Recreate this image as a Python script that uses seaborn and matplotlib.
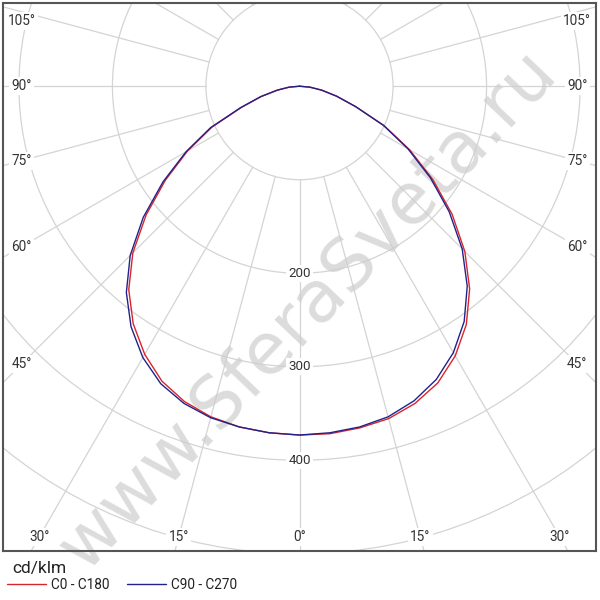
import numpy as np
import pandas as pd
import seaborn as sns
import matplotlib.pyplot as plt
from matplotlib.lines import Line2D
from matplotlib.patches import Circle

# luminous intensity distribution, cd/klm, gamma angle 0..90 deg (step 5)
gamma = [0, 5, 10, 15, 20, 25, 30, 35, 40, 45, 50, 55, 60, 65, 70, 75, 80, 85, 90]
c0 = [373, 373, 371, 368, 361, 350, 333, 311, 283, 250, 213, 174, 136, 100, 64, 41, 24, 11, 0]
c180 = [373, 372, 370, 366, 359, 348, 331, 310, 284, 252, 214, 175, 138, 103, 66, 42, 24, 11, 0]
c90 = [373, 372, 370, 366, 358, 346, 329, 307, 279, 246, 209, 171, 134, 99, 64, 41, 24, 11, 0]
c270 = [373, 372, 370, 367, 361, 351, 335, 314, 288, 256, 218, 178, 140, 105, 67, 43, 24, 11, 0]

series_names = ['C0 - C180', 'C90 - C270']
series_colors = ['#d7262b', '#22228c']

ring_values = [100, 200, 300, 400, 500, 600, 700]
ring_labels = [200, 300, 400]
spoke_angles = list(range(0, 360, 15))
angle_labels = [-105, -90, -75, -60, -45, -30, -15, 0, 15, 30, 45, 60, 75, 90, 105]

grid_color = '#d4d4d4'
text_color = '#333333'
xlim = (-317, 317)
ylim = (-497, 89)


def to_xy(theta_deg, r, side):
    t = np.radians(theta_deg)
    return side * np.asarray(r) * np.sin(t), -np.asarray(r) * np.cos(t)


# one continuous path per plane: left half (90 -> 0), then right half (0 -> 90)
rows = []
for name, left, right in [(series_names[0], c180, c0), (series_names[1], c270, c90)]:
    xl, yl = to_xy(gamma[::-1], left[::-1], -1)
    xr, yr = to_xy(gamma[1:], right[1:], 1)
    for x, y in zip(np.concatenate([xl, xr]), np.concatenate([yl, yr])):
        rows.append({'x': x, 'y': y, 'plane': name})
df = pd.DataFrame(rows)

sns.set_theme(style='white')
plt.rcParams['font.family'] = ['Roboto', 'DejaVu Sans']

fig = plt.figure(figsize=(6, 6), dpi=100)
ax = fig.add_axes([3 / 600, 49 / 600, 593 / 600, 548 / 600])

# polar grid
for rv in ring_values:
    ax.add_patch(Circle((0, 0), rv, fill=False, ec=grid_color, lw=0.9, zorder=1))
for a in spoke_angles:
    t = np.radians(a)
    ax.plot([100 * np.sin(t), 900 * np.sin(t)], [-100 * np.cos(t), -900 * np.cos(t)],
            color=grid_color, lw=0.9, zorder=1)

# watermark
ax.text(0.515, 0.44, 'www.SferaSveta.ru', transform=ax.transAxes, rotation=46.4,
        ha='center', va='center', rotation_mode='anchor', fontsize=52,
        family='DejaVu Sans', color='#cdcdcd', alpha=0.7, zorder=1.5)

sns.lineplot(data=df, x='x', y='y', hue='plane', palette=series_colors, sort=False,
             estimator=None, lw=1.0, legend=False, ax=ax, zorder=3)

box = dict(facecolor='white', edgecolor='none', pad=1.5)
for rv in ring_labels:
    ax.text(0, -rv, str(rv), ha='center', va='center', fontsize=9.6, color=text_color,
            bbox=box, zorder=4)

side_x = 297
bottom_y = -482
top_y = 70
for a in angle_labels:
    t = np.radians(abs(a))
    sgn = 1 if a >= 0 else -1
    if abs(a) == 90:
        lx, ly = side_x, 0.0
    else:
        ly_side = -side_x / np.tan(t)
        if ly_side >= bottom_y:
            lx, ly = side_x, min(ly_side, top_y)
        else:
            lx, ly = -bottom_y * np.tan(t), bottom_y
    ax.text(sgn * lx, ly, f'{abs(a)}°', ha='center', va='center', fontsize=9.8,
            color=text_color, bbox=box, zorder=4)

ax.set_xlim(*xlim)
ax.set_ylim(*ylim)
ax.set_xticks([])
ax.set_yticks([])
ax.set_xlabel('')
ax.set_ylabel('')
for sp in ax.spines.values():
    sp.set_visible(True)
    sp.set_color('#555555')
    sp.set_linewidth(1.5)

# unit caption and legend below the frame
fig.text(12 / 600, 1 - 569 / 600, 'cd/klm', ha='left', va='center', fontsize=12.5,
         color='#222222')
handles = [Line2D([], [], color=c, lw=1.0) for c in series_colors]
leg = ax.legend(handles, series_names, loc='center left',
                bbox_to_anchor=(0.012, 1 - 585 / 600), bbox_transform=fig.transFigure,
                ncol=2, frameon=False, fontsize=9.8, handlelength=2.85,
                handletextpad=0.38, columnspacing=1.3, borderaxespad=0, borderpad=0)
for t in leg.get_texts():
    t.set_color('#222222')

fig.savefig('out.png', dpi=100)
